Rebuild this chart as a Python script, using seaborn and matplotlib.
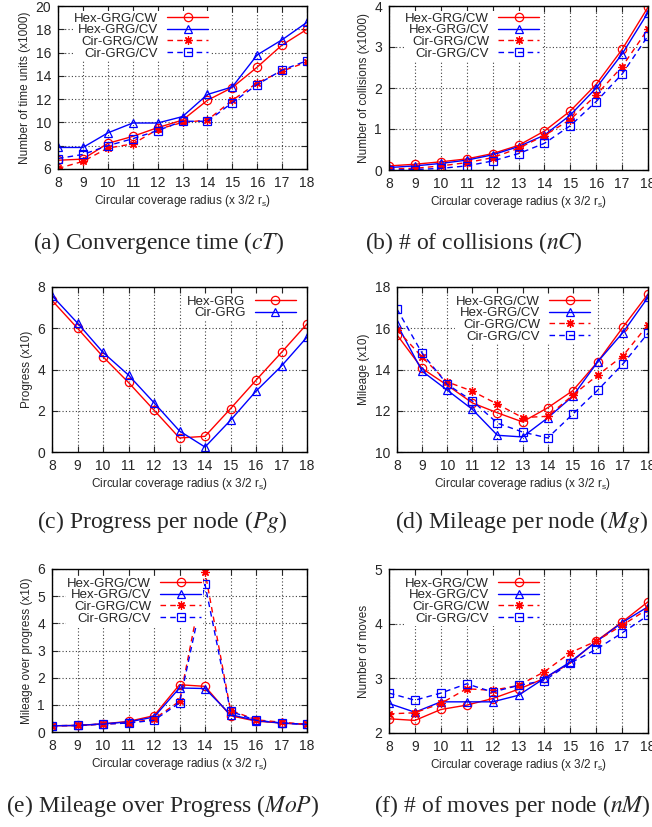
import matplotlib
matplotlib.use("Agg")
import matplotlib.pyplot as plt
import numpy as np
import pandas as pd
import seaborn as sns

sns.set_theme(style="ticks")
plt.rcParams["font.family"] = ["Liberation Sans", "DejaVu Sans"]
plt.rcParams["mathtext.fontset"] = "stix"

RED = "#ff0000"
BLUE = "#0000ff"

radius = [8, 9, 10, 11, 12, 13, 14, 15, 16, 17, 18]

# (a) convergence time (x1000)
ct_hex_cw = [6.75, 6.85, 8.2, 8.8, 9.55, 10.2, 11.9, 13.0, 14.75, 16.65, 18.0]
ct_hex_cv = [7.85, 7.85, 9.1, 9.95, 9.95, 10.5, 12.4, 13.05, 15.8, 17.1, 18.6]
ct_cir_cw = [6.05, 6.65, 7.8, 8.15, 9.4, 10.0, 10.2, 11.9, 13.4, 14.4, 15.2]
ct_cir_cv = [6.9, 7.25, 8.0, 8.6, 9.3, 10.1, 10.1, 11.7, 13.25, 14.5, 15.3]

# (b) number of collisions (x1000)
nc_hex_cw = [0.1, 0.14, 0.2, 0.27, 0.4, 0.6, 0.95, 1.44, 2.09, 2.94, 3.97]
nc_hex_cv = [0.06, 0.1, 0.16, 0.24, 0.37, 0.57, 0.85, 1.34, 2.0, 2.83, 3.84]
nc_cir_cw = [0.03, 0.04, 0.1, 0.18, 0.3, 0.53, 0.84, 1.23, 1.83, 2.52, 3.44]
nc_cir_cv = [0.0, 0.01, 0.04, 0.1, 0.22, 0.4, 0.65, 1.08, 1.67, 2.34, 3.27]

# (c) progress (x10)
pg_hex = [7.35, 6.0, 4.62, 3.37, 2.03, 0.68, 0.76, 2.1, 3.48, 4.83, 6.21]
pg_cir = [7.58, 6.25, 4.83, 3.73, 2.39, 1.02, 0.24, 1.54, 2.95, 4.17, 5.57]

# (d) mileage (x10)
mg_hex_cw = [15.68, 14.05, 13.24, 12.38, 11.9, 11.46, 12.14, 12.97, 14.38, 16.05, 17.66]
mg_hex_cv = [16.2, 13.92, 13.0, 12.07, 10.81, 10.73, 11.65, 12.7, 14.38, 15.79, 17.5]
mg_cir_cw = [15.93, 14.6, 13.4, 12.95, 12.32, 11.67, 11.73, 12.75, 13.73, 14.66, 16.17]
mg_cir_cv = [16.93, 14.79, 13.28, 12.48, 11.4, 10.97, 10.68, 11.83, 13.0, 14.27, 15.76]

# (e) mileage over progress (x10)
mop_hex_cw = [0.23, 0.24, 0.3, 0.39, 0.6, 1.74, 1.68, 0.6, 0.4, 0.33, 0.28]
mop_hex_cv = [0.23, 0.24, 0.3, 0.37, 0.55, 1.62, 1.6, 0.64, 0.42, 0.33, 0.28]
mop_cir_cw = [0.23, 0.24, 0.29, 0.33, 0.48, 1.13, 5.9, 0.8, 0.45, 0.36, 0.28]
mop_cir_cv = [0.23, 0.24, 0.29, 0.33, 0.43, 1.07, 5.44, 0.76, 0.43, 0.33, 0.28]

# (f) number of moves
nm_hex_cw = [2.26, 2.23, 2.43, 2.51, 2.63, 2.8, 3.0, 3.28, 3.68, 4.03, 4.4]
nm_hex_cv = [2.54, 2.38, 2.57, 2.57, 2.57, 2.69, 3.0, 3.3, 3.67, 4.02, 4.31]
nm_cir_cw = [2.35, 2.37, 2.54, 2.81, 2.78, 2.87, 3.12, 3.47, 3.68, 3.97, 4.27]
nm_cir_cv = [2.73, 2.6, 2.73, 2.9, 2.75, 2.87, 2.96, 3.28, 3.53, 3.83, 4.15]

W, H = 652, 827
fig = plt.figure(figsize=(W / 100, H / 100), dpi=100)

STYLES = {
    "Hex-GRG/CW": dict(color=RED, marker="o", linestyle="-"),
    "Hex-GRG/CV": dict(color=BLUE, marker="^", linestyle="-"),
    "Cir-GRG/CW": dict(color=RED, marker=(8, 2, 0), linestyle=(0, (4, 3))),
    "Cir-GRG/CV": dict(color=BLUE, marker="s", linestyle=(0, (4, 3))),
    "Hex-GRG": dict(color=RED, marker="o", linestyle="-"),
    "Cir-GRG": dict(color=BLUE, marker="^", linestyle="-"),
}


def make_ax(l, t, r, b):
    return fig.add_axes([l / W, 1 - b / H, (r - l) / W, (b - t) / H])


def panel(ax, series, ylim, yticks, ylabel, leg_xy, caption, cap_x, cap_y):
    for name, vals in series:
        st = STYLES[name]
        sns.lineplot(x=radius, y=vals, ax=ax, label=name, color=st["color"],
                     marker=st["marker"], linestyle=st["linestyle"],
                     markersize=6, markerfacecolor="none",
                     markeredgecolor=st["color"], markeredgewidth=0.9,
                     linewidth=1.0)
    ax.set_xlim(8, 18)
    ax.set_ylim(*ylim)
    ax.set_xticks(radius)
    ax.set_yticks(yticks)
    ax.tick_params(direction="in", top=True, right=True, labelsize=10,
                   length=4, width=0.8, pad=5)
    for sp in ax.spines.values():
        sp.set_linewidth(1.0)
        sp.set_color("black")
    ax.grid(True, linestyle=(0, (1, 2)), color="0.25", linewidth=0.8)
    ax.set_xlabel(r"Circular coverage radius (x 3/2 r$\mathregular{_s}$)",
                  fontsize=8.5, labelpad=2)
    ax.set_ylabel(ylabel, fontsize=8.5, labelpad=3)
    leg = ax.legend(loc="upper left", bbox_to_anchor=(leg_xy[0] / W, 1 - leg_xy[1] / H),
                    bbox_transform=fig.transFigure, markerfirst=False,
                    fontsize=9.5, handlelength=3.1, handletextpad=0.7,
                    labelspacing=-0.04, borderpad=0.1, borderaxespad=0,
                    frameon=True, fancybox=False, framealpha=1,
                    facecolor="white", edgecolor="none")
    # gnuplot-style key: labels flush right against the line samples
    for col in leg._legend_handle_box.get_children():
        col.align = "right"
    fig.text(cap_x / W, 1 - cap_y / H, caption, ha="center", va="center",
             fontsize=17, family=["Liberation Serif", "DejaVu Serif"])


ax_a = make_ax(58, 6, 307, 169)
panel(ax_a, [("Hex-GRG/CW", ct_hex_cw), ("Hex-GRG/CV", ct_hex_cv),
             ("Cir-GRG/CW", ct_cir_cw), ("Cir-GRG/CV", ct_cir_cv)],
      (6, 20), range(6, 21, 2), "Number of time units (x1000)",
      (73, 11), r"(a) Convergence time ($cT$)", 158, 243)

ax_b = make_ax(389, 6, 648, 170)
panel(ax_b, [("Hex-GRG/CW", nc_hex_cw), ("Hex-GRG/CV", nc_hex_cv),
             ("Cir-GRG/CW", nc_cir_cw), ("Cir-GRG/CV", nc_cir_cv)],
      (0, 4), range(0, 5), "Number of collisions (x1000)",
      (404, 11), r"(b) # of collisions ($nC$)", 474, 243)

ax_c = make_ax(52, 287, 307, 452)
panel(ax_c, [("Hex-GRG", pg_hex), ("Cir-GRG", pg_cir)],
      (0, 8), range(0, 9, 2), "Progress (x10)",
      (186, 294), r"(c) Progress per node ($Pg$)", 162, 522)

ax_d = make_ax(397, 287, 648, 452)
panel(ax_d, [("Hex-GRG/CW", mg_hex_cw), ("Hex-GRG/CV", mg_hex_cv),
             ("Cir-GRG/CW", mg_cir_cw), ("Cir-GRG/CV", mg_cir_cv)],
      (10, 18), range(10, 19, 2), "Mileage (x10)",
      (455, 294), r"(d) Mileage per node ($Mg$)", 521, 522)

ax_e = make_ax(52, 569, 307, 732)
panel(ax_e, [("Hex-GRG/CW", mop_hex_cw), ("Hex-GRG/CV", mop_hex_cv),
             ("Cir-GRG/CW", mop_cir_cw), ("Cir-GRG/CV", mop_cir_cv)],
      (0, 6), range(0, 7), "Mileage over progress (x10)",
      (66, 576), r"(e) Mileage over Progress ($MoP$)", 163, 806)

ax_f = make_ax(389, 569, 648, 733)
panel(ax_f, [("Hex-GRG/CW", nm_hex_cw), ("Hex-GRG/CV", nm_hex_cv),
             ("Cir-GRG/CW", nm_cir_cw), ("Cir-GRG/CV", nm_cir_cv)],
      (2, 5), range(2, 6), "Number of moves",
      (404, 576), r"(f) # of moves per node ($nM$)", 512, 806)

fig.savefig("out.png", dpi=100)
